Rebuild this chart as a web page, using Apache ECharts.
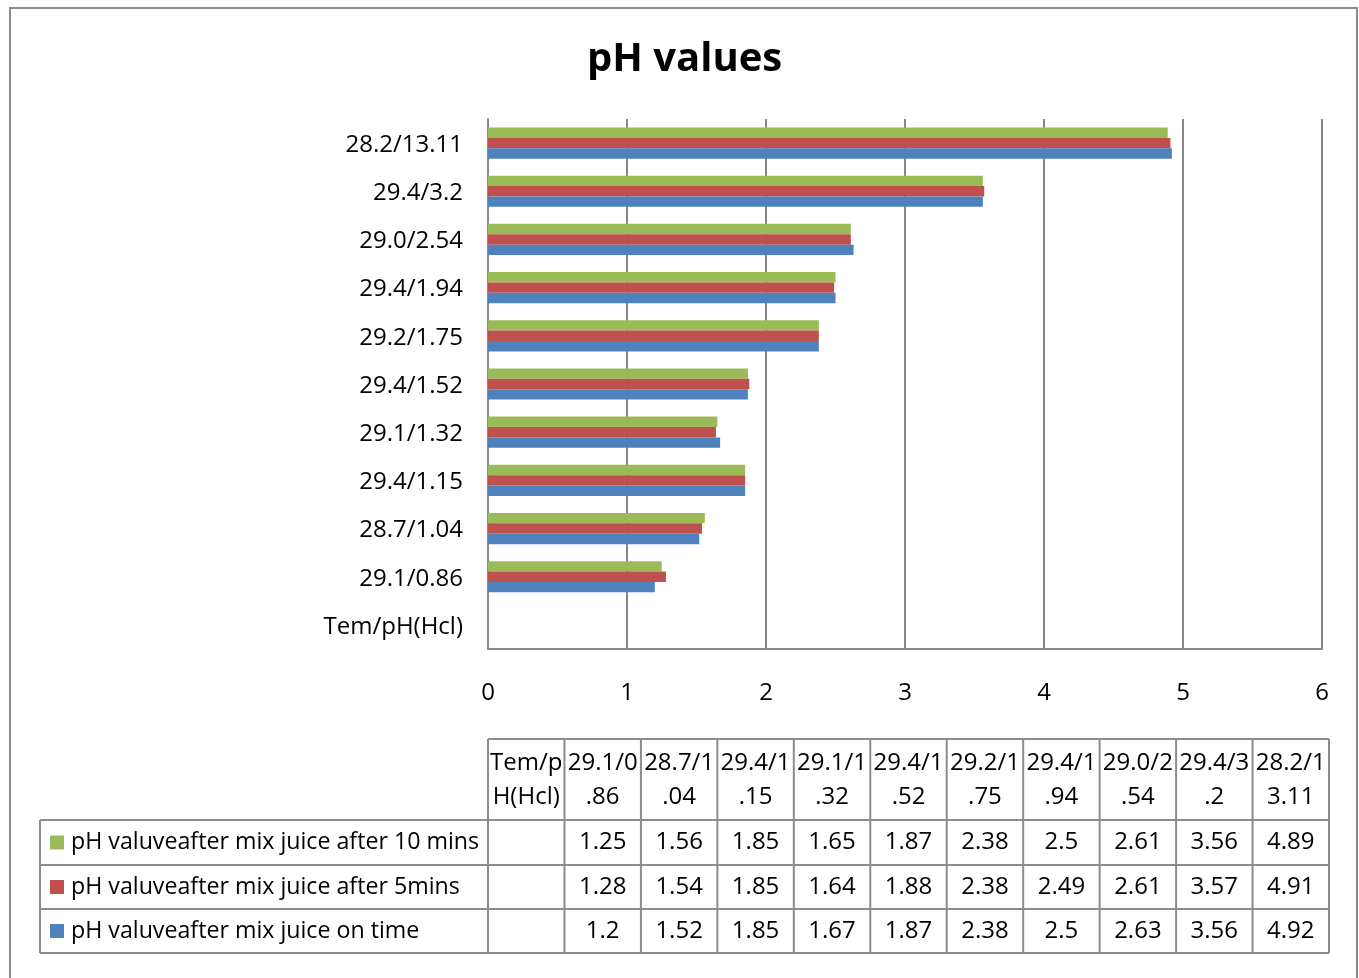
<!DOCTYPE html>
<html>
<head>
<meta charset="utf-8">
<script src="https://cdn.jsdelivr.net/npm/echarts@6/dist/echarts.min.js"></script>
<style>
html,body{margin:0;padding:0;background:#fff;}
#chart{width:1359px;height:978px;}
</style>
</head>
<body>
<div id="chart"></div>
<script>
var categories = ['Tem/pH(Hcl)', '29.1/0.86', '28.7/1.04', '29.4/1.15', '29.1/1.32', '29.4/1.52', '29.2/1.75', '29.4/1.94', '29.0/2.54', '29.4/3.2', '28.2/13.11'];
var seriesNames = ['pH valuveafter mix juice after 10 mins', 'pH valuveafter mix juice after 5mins', 'pH valuveafter mix juice on time'];
var after10 = [null, 1.25, 1.56, 1.85, 1.65, 1.87, 2.38, 2.5, 2.61, 3.56, 4.89];
var after5  = [null, 1.28, 1.54, 1.85, 1.64, 1.88, 2.38, 2.49, 2.61, 3.57, 4.91];
var onTime  = [null, 1.2, 1.52, 1.85, 1.67, 1.87, 2.38, 2.5, 2.63, 3.56, 4.92];
var xTicks = [0, 1, 2, 3, 4, 5, 6];

var colors = ['#9BBB59', '#C0504D', '#4F81BD'];
var seriesData = [after10, after5, onTime];
var FONT = 'Open Sans';
var FS = 24;
var LEGEND_FS = 23.2;
var gridColor = '#878787';
var tableColor = '#8c8c8c';

var chart = echarts.init(document.getElementById('chart'));

// table layout
var T = {
  legendLeft: 40, left: 488, right: 1329,
  headTop: 739, headBottom: 820,
  rowBottoms: [865, 909, 953]
};
var nCols = categories.length;
var colW = (T.right - T.left) / nCols;

var graphics = [];
// outer border
graphics.push({type: 'rect', shape: {x: 10, y: 8, width: 1347, height: 1100},
  style: {fill: 'none', stroke: '#8c8c8c', lineWidth: 2}, silent: true});

function hline(x1, x2, y) {
  graphics.push({type: 'line', shape: {x1: x1, y1: y, x2: x2, y2: y}, style: {stroke: tableColor, lineWidth: 2}, silent: true});
}
function vline(x, y1, y2) {
  graphics.push({type: 'line', shape: {x1: x, y1: y1, x2: x, y2: y2}, style: {stroke: tableColor, lineWidth: 2}, silent: true});
}
var tableBottom = T.rowBottoms[T.rowBottoms.length - 1];
hline(T.left, T.right, T.headTop);
hline(T.legendLeft, T.right, T.headBottom);
T.rowBottoms.forEach(function (y) { hline(T.legendLeft, T.right, y); });
vline(T.legendLeft, T.headBottom, tableBottom);
for (var c = 0; c <= nCols; c++) {
  vline(T.left + c * colW, T.headTop, tableBottom);
}
// header texts
categories.forEach(function (cat, i) {
  graphics.push({type: 'text', silent: true,
    style: {text: cat, x: T.left + i * colW + colW / 2, y: (T.headTop + T.headBottom) / 2 + 1,
      width: colW - 2, overflow: 'breakAll', lineHeight: 34,
      align: 'center', verticalAlign: 'middle', font: FS + 'px "' + FONT + '"', fill: '#000'}});
});
// rows
var rowTops = [T.headBottom].concat(T.rowBottoms.slice(0, -1));
seriesNames.forEach(function (name, r) {
  var yc = (rowTops[r] + T.rowBottoms[r]) / 2;
  graphics.push({type: 'rect', silent: true, shape: {x: 50, y: yc - 7, width: 14, height: 14}, style: {fill: colors[r]}});
  graphics.push({type: 'text', silent: true,
    style: {text: name, x: 71, y: yc, align: 'left', verticalAlign: 'middle', font: LEGEND_FS + 'px "' + FONT + '"', fill: '#000'}});
  seriesData[r].forEach(function (v, i) {
    if (v === null) return;
    graphics.push({type: 'text', silent: true,
      style: {text: String(v), x: T.left + i * colW + colW / 2, y: yc, align: 'center', verticalAlign: 'middle',
        font: FS + 'px "' + FONT + '"', fill: '#000'}});
  });
});

var option = {
  animation: false,
  backgroundColor: '#fff',
  title: {
    text: 'pH values', left: 582, top: 35,
    textStyle: {fontFamily: FONT, fontWeight: 'bold', fontSize: 40, color: '#000'}
  },
  grid: {left: 488, right: 37, top: 119, bottom: 329, containLabel: false},
  xAxis: {
    type: 'value', min: xTicks[0], max: xTicks[xTicks.length - 1], interval: 1,
    axisLine: {show: true, lineStyle: {color: gridColor, width: 2}},
    axisTick: {show: false},
    splitLine: {show: true, lineStyle: {color: gridColor, width: 2}},
    axisLabel: {margin: 32, fontFamily: FONT, fontSize: FS, color: '#000'}
  },
  yAxis: {
    type: 'category', data: categories,
    axisLine: {show: true, lineStyle: {color: gridColor, width: 2}},
    axisTick: {show: false},
    axisLabel: {
      margin: 25, fontFamily: FONT, fontSize: FS, color: '#000',
      formatter: function (v) { return '{a|' + v + '}'; },
      rich: {a: {fontFamily: FONT, fontSize: FS, color: '#000', padding: [4, 0, 0, 0]}}
    }
  },
  series: seriesNames.map(function (name, i) {
    return {
      name: name, type: 'bar', data: seriesData[i], barWidth: 10.4, barGap: '0%',
      itemStyle: {color: colors[i]}
    };
  }),
  graphic: graphics
};
chart.setOption(option);
</script>
</body>
</html>
